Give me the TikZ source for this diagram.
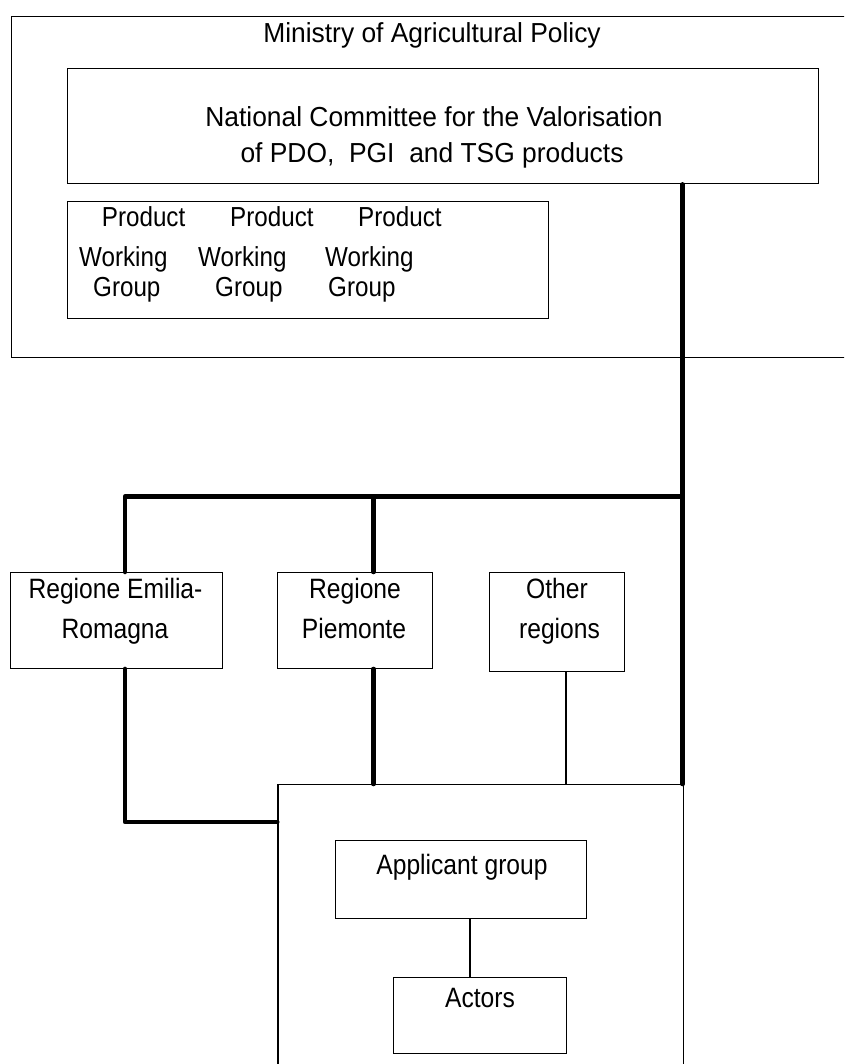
\documentclass[tikz,border=0pt]{standalone}
\usepackage{fontspec}
\setmainfont{Liberation Sans}
\newfontfamily\mainlbl[FakeStretch=0.96]{Liberation Sans}
\newfontfamily\condfont[FakeStretch=0.88]{Liberation Sans}
\begin{document}
\begin{tikzpicture}[x=1pt,y=-1pt,
  box/.style={draw, line width=1.4pt, anchor=north west, inner sep=0pt},
  lbl/.style={inner sep=0pt, anchor=base, font=\mainlbl\fontsize{27.5}{30}\selectfont},
  clbl/.style={inner sep=0pt, anchor=base, font=\condfont\fontsize{28}{30}\selectfont},
  wlbl/.style={inner sep=0pt, anchor=base west, font=\condfont\fontsize{27.5}{30}\selectfont},
  heavy/.style={line width=4.5pt, line cap=round, line join=round},
  link/.style={line width=1.2pt}]
\clip (0,0) rectangle (844,1064);
\fill[white] (0,0) rectangle (844,1064);
% boxes
\node[box, minimum width=850pt, minimum height=341pt] (ministry) at (11,16) {};
\node[box, minimum width=751pt, minimum height=115pt] (national) at (67,68) {};
\node[box, minimum width=481pt, minimum height=117pt] (product) at (67,201) {};
\node[box, minimum width=212pt, minimum height=95.5pt] (emilia) at (9.5,572) {};
\node[box, minimum width=155pt, minimum height=95.5pt] (piemonte) at (277,572) {};
\node[box, minimum width=135pt, minimum height=99pt] (other) at (489,572) {};
\node[box, minimum width=405.4pt, minimum height=320pt] (appbox) at (277.3,784) {};
\node[box, minimum width=251pt, minimum height=78pt] (applicant) at (335,840) {};
\node[box, minimum width=173pt, minimum height=76pt] (actors) at (393,977) {};
% texts
\node[lbl] (tmin) at (432,43) {Ministry of Agricultural Policy};
\node[lbl] (tnat1) at (434,127) {National Committee for the Valorisation};
\node[lbl] (tnat2) at (432,163) {of PDO,\ \ PGI\ \ and TSG products};
\node[wlbl] (tp1) at (101.7,227) {Product};
\node[wlbl] (tp2) at (230,227) {Product};
\node[wlbl] (tp3) at (358,227) {Product};
\node[wlbl] (tw1) at (79,266) {Working};
\node[wlbl] (tw2) at (198,266) {Working};
\node[wlbl] (tw3) at (325,266) {Working};
\node[wlbl] (tg1) at (93,297) {Group};
\node[wlbl] (tg2) at (215,297) {Group};
\node[wlbl] (tg3) at (328,297) {Group};
\node[clbl] (te1) at (115.5,598) {Regione Emilia-};
\node[clbl] (te2) at (115,638) {Romagna};
\node[clbl] (tpi1) at (355,598) {Regione};
\node[clbl] (tpi2) at (354,638) {Piemonte};
\node[clbl] (to1) at (557,598) {Other};
\node[clbl] (to2) at (559.5,638) {regions};
\node[clbl] (tapp) at (462,874) {Applicant group};
\node[clbl] (tact) at (480,1007) {Actors};
% connector positions
\coordinate (hub) at (682.5,496.5);
\coordinate (ex) at (125,0);
\coordinate (px) at (373.5,0);
\coordinate (ox) at (566,0);
\coordinate (ax) at (470,0);
\coordinate (ey) at (0,822);
% heavy connectors
\draw[heavy] (national.south -| hub) -- (hub) -- (appbox.north -| hub);
\draw[heavy] (hub) -- (hub -| ex) -- (emilia.north -| ex);
\draw[heavy] (hub -| px) -- (piemonte.north -| px);
\draw[heavy] (emilia.south -| ex) -- (ex |- ey) -- (appbox.west |- ey);
\draw[heavy] (piemonte.south -| px) -- (appbox.north -| px);
% thin connectors
\draw[link] (other.south -| ox) -- (appbox.north -| ox);
\draw[link] (applicant.south -| ax) -- (actors.north -| ax);
\end{tikzpicture}
\end{document}
